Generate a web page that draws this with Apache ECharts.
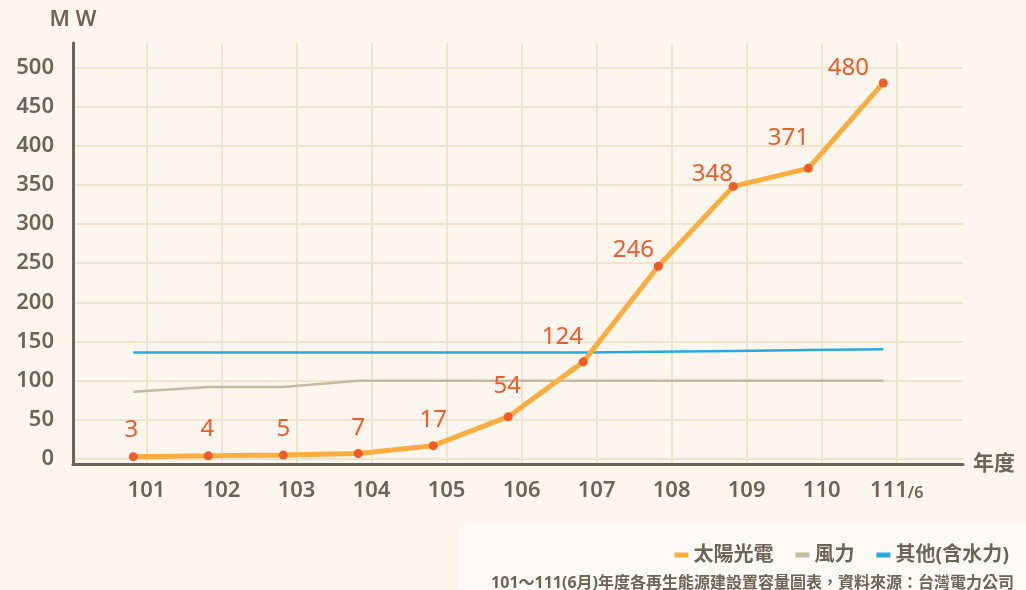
<!DOCTYPE html>
<html><head><meta charset="utf-8">
<script src="https://cdn.jsdelivr.net/npm/echarts@6/dist/echarts.min.js"></script>
<style>html,body{margin:0;padding:0;background:#fdf6ee;} #c{width:1026px;height:590px;}</style>
</head><body><div id="c"></div>
<script>
// ---- data ----
const years = ['101','102','103','104','105','106','107','108','109','110','111/6'];
const solar = [3, 4, 5, 7, 17, 54, 124, 246, 348, 371, 480];
const wind  = [86, 92, 92, 100, 100, 100, 100, 100, 100, 100, 100];
const other = [136, 136, 136, 136, 136, 136, 136, 137, 138, 139, 140];
const yMin = 0, yMax = 500, yStep = 50;
const names = ['太陽光電', '風力', '其他(含水力)'];
const caption = '101～111(6月)年度各再生能源建設置容量圖表，資料來源：台灣電力公司';

// ---- style ----
const FONT = "'Noto Sans','Noto Sans CJK TC',sans-serif";
const TXT = '#6e6357';
const GRIDC = '#efe4cc';
const W = 600;
const labelNudge = [[-2,-5],[-1,-5],[0,-4],[0,-4],[0,-4],[-1,-9],[-21,-3],[-25,5],[-21,9],[-20,-9],[-35,7]];

const chart = echarts.init(document.getElementById('c'), null, {renderer:'canvas'});
const hidden = {show:false};
const option = {
  backgroundColor: '#fdf6ee',
  animation: false,
  graphic: [{type:'rect', shape:{x:459, y:525, width:567, height:65}, style:{fill:'#fffaf6'}, z:-1}],
  title: {text: caption, right: 7, top: 570, textStyle:{fontFamily:FONT, fontSize:16, fontWeight:'bold', color:TXT}},
  legend: {
    right: 12, top: 540, itemWidth: 14, itemHeight: 5, itemGap: 22, icon: 'rect',
    textStyle: {fontFamily:FONT, fontSize:20, fontWeight:'bold', color:TXT},
    data: [
      {name: names[0], itemStyle:{color:'#fbae3f'}},
      {name: names[1], itemStyle:{color:'#c7b8a0'}},
      {name: names[2], itemStyle:{color:'#29a8e0'}}
    ]
  },
  grid: [
    {left:73, right:63, top:43, bottom:126},
    {left:73, right:63, top:67.3, bottom:131},
    {left:146.5, right:129.3, top:43, bottom:126},
    {left:133.3, right:142.7, top:67.3, bottom:131}
  ],
  xAxis: [
    {gridIndex:0, type:'value', min:0, max:1, z:3,
     axisLine:{show:true, lineStyle:{color:TXT, width:3}}, axisTick:hidden, axisLabel:hidden, splitLine:hidden,
     name:'年度', nameLocation:'end', nameGap:10,
     nameTextStyle:{fontFamily:FONT, fontSize:21, fontWeight:'bold', color:TXT, verticalAlign:'middle'}},
    {gridIndex:1, type:'value', min:0, max:1, show:false},
    {gridIndex:2, type:'category', data:years, boundaryGap:false,
     axisLine:hidden, axisTick:{show:false, interval:0},
     splitLine:{show:true, interval:0, lineStyle:{color:GRIDC, width:2}},
     axisLabel:{interval:0, margin:16, fontFamily:FONT, fontSize:22, fontWeight:W, color:TXT,
       formatter: v => v.indexOf('/') >= 0 ? '{a|' + v.split('/')[0] + '}{b|/' + v.split('/')[1] + '}' : v,
       rich:{a:{fontFamily:FONT, fontSize:22, fontWeight:W, color:TXT}, b:{fontFamily:FONT, fontSize:16, color:TXT, padding:[5,0,0,0]}}}},
    {gridIndex:3, type:'category', data:years, boundaryGap:false, show:false}
  ],
  yAxis: [
    {gridIndex:0, type:'value', min:0, max:1, z:3,
     axisLine:{show:true, lineStyle:{color:TXT, width:3}}, axisTick:hidden, axisLabel:hidden, splitLine:hidden,
     name:'M W', nameLocation:'end', nameGap:12,
     nameTextStyle:{fontFamily:FONT, fontSize:22, fontWeight:W, color:TXT, align:'center'}},
    {gridIndex:1, type:'value', min:yMin, max:yMax, interval:yStep,
     axisLine:hidden, axisTick:hidden,
     splitLine:{show:true, lineStyle:{color:GRIDC, width:2}},
     axisLabel:{margin:19, fontFamily:FONT, fontSize:22, fontWeight:W, color:TXT, padding:[4,0,0,0]}},
    {gridIndex:2, type:'value', show:false},
    {gridIndex:3, type:'value', min:yMin, max:yMax, show:false}
  ],
  series: [
    {name:names[2], type:'line', xAxisIndex:3, yAxisIndex:3, data:other, showSymbol:false, symbol:'none',
     lineStyle:{color:'#29a8e0', width:2.5}, itemStyle:{color:'#29a8e0'}, z:2},
    {name:names[1], type:'line', xAxisIndex:3, yAxisIndex:3, data:wind, showSymbol:false, symbol:'none',
     lineStyle:{color:'#c7b8a0', width:2.5}, itemStyle:{color:'#c7b8a0'}, z:2},
    {name:names[0], type:'line', xAxisIndex:3, yAxisIndex:3, z:4,
     data: solar.map((v,i) => ({value:v, label:{offset:labelNudge[i]}})),
     symbol:'circle', symbolSize:9,
     lineStyle:{color:'#fbae3f', width:5}, itemStyle:{color:'#f15a29'},
     label:{show:true, position:'top', distance:5, fontFamily:FONT, fontSize:24, fontWeight:'normal', color:'#f15a29'}}
  ]
};
chart.setOption(option);
</script></body></html>
